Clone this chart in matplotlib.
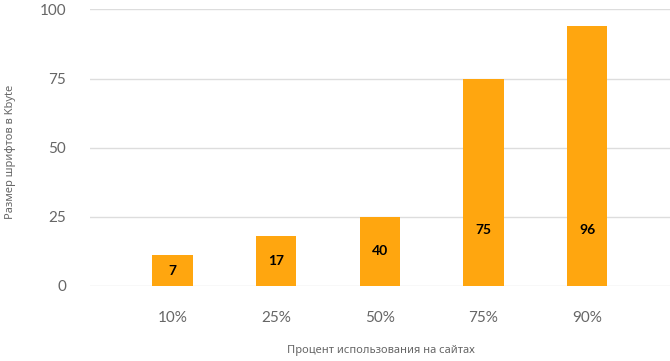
import matplotlib
matplotlib.use('Agg')
import matplotlib.pyplot as plt
import numpy as np

plt.rcParams['font.family'] = ['Lato', 'Noto Sans', 'DejaVu Sans']

kategorien = ['10%', '25%', '50%', '75%', '90%']
groesse = [11, 18, 25, 75, 94]
beschriftung = ['7', '17', '40', '75', '96']

farbe_balken = '#FFA60F'
farbe_text = '#666666'
farbe_gitter = '#DDDDDD'

fig = plt.figure(figsize=(6.7, 3.61), dpi=100)
ax = fig.add_axes([0.134, 0.208, 0.866, 0.766])

x = np.arange(len(kategorien))
balken = ax.bar(x, groesse, width=0.39, color=farbe_balken, zorder=3)

# Werte in die Balken schreiben (Mitte, aber nicht zu hoch)
for b, txt in zip(balken, beschriftung):
    y = min(b.get_height() / 2, 20.2)
    ax.text(b.get_x() + b.get_width() / 2, y, txt, ha='center', va='center',
            fontsize=10, fontweight='bold', color='black', zorder=4)

ax.set_xlim(-0.8, 4.8)
ax.set_ylim(0, 100)
ax.set_yticks([0, 25, 50, 75, 100])
ax.set_xticks(x)
ax.set_xticklabels(kategorien)
ax.yaxis.grid(True, color=farbe_gitter, linewidth=1, zorder=0)
for s in ax.spines.values():
    s.set_visible(False)
ax.tick_params(axis='both', length=0, labelsize=11, labelcolor=farbe_text)
ax.tick_params(axis='y', pad=17)
ax.tick_params(axis='x', pad=18)

fig.text(0.016, 0.579, 'Размер шрифтов в Kbyte', rotation=90, ha='center', va='center',
         fontsize=8, color=farbe_text, family=['Noto Sans', 'DejaVu Sans'])
fig.text(0.569, 0.028, 'Процент использования на сайтах', ha='center', va='center',
         fontsize=8, color=farbe_text, family=['Noto Sans', 'DejaVu Sans'])

fig.savefig('out.png', dpi=100)
